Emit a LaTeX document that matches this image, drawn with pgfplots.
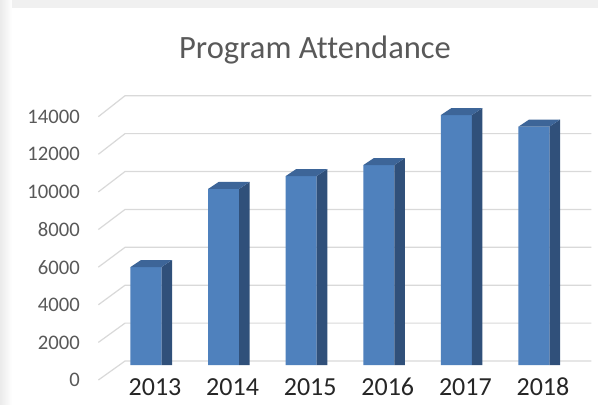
\documentclass[border=0pt]{standalone}
\usepackage{pgfplots}
\pgfplotsset{compat=1.18}
\usepackage{fontspec}
\setmainfont{Carlito}[Ligatures=NoCommon]
\definecolor{txt}{HTML}{595959}
\definecolor{gridc}{HTML}{D9D9D9}
\definecolor{front}{HTML}{4F81BD}
\definecolor{side}{HTML}{30507A}
\definecolor{topc}{HTML}{3D6598}
\begin{document}
\begin{tikzpicture}
% background (1px = 0.75pt); axis box spans x 84..598 px, y 0..404 px
\useasboundingbox (-63pt,0pt) rectangle (385.5pt,303pt);
\fill[gray!12] (-63pt,0pt) rectangle (385.5pt,303pt);
\shade[left color=gray!16, right color=white] (-63pt,0pt) rectangle (-54pt,303pt);
\fill[white] (-54pt,0pt) rectangle (385.5pt,297pt);
\begin{axis}[
  at={(0,0)}, anchor=south west,
  scale only axis, width=385.5pt, height=303pt,
  xmin=-0.799, xmax=5.825, ymin=-2058, ymax=19261,
  clip=false,
  axis line style={draw=none}, tick style={draw=none},
  scaled y ticks=false,
  /pgf/number format/assume math mode=true,
  ytick={-792,1193,3178,5164,7149,9134,11119,13104},
  yticklabels={0,2000,4000,6000,8000,10000,12000,14000},
  xtick={0.116,1.116,2.116,3.116,4.116,5.116},
  xticklabels={2013,2014,2015,2016,2017,2018},
  yticklabel style={anchor=east, inner sep=0pt, xshift=-3pt, text=txt, font=\fontsize{15.5}{15.5}\selectfont},
  xticklabel style={anchor=base, inner sep=0pt, yshift=11pt, text=black!85, font=\fontsize{19.5}{19.5}\selectfont},
  ybar, bar width=0.4, bar shift=0pt,
]
% back-wall gridlines and floor diagonals
\addplot[sharp plot, draw=gridc, line width=0.9pt] coordinates {(-0.614,-792) (-0.270,211) (5.740,211)};
\addplot[sharp plot, draw=gridc, line width=0.9pt] coordinates {(-0.614,1193) (-0.270,2211) (5.740,2211)};
\addplot[sharp plot, draw=gridc, line width=0.9pt] coordinates {(-0.614,3178) (-0.270,4211) (5.740,4211)};
\addplot[sharp plot, draw=gridc, line width=0.9pt] coordinates {(-0.614,5164) (-0.270,6211) (5.740,6211)};
\addplot[sharp plot, draw=gridc, line width=0.9pt] coordinates {(-0.614,7149) (-0.270,8211) (5.740,8211)};
\addplot[sharp plot, draw=gridc, line width=0.9pt] coordinates {(-0.614,9134) (-0.270,10211) (5.740,10211)};
\addplot[sharp plot, draw=gridc, line width=0.9pt] coordinates {(-0.614,11119) (-0.270,12211) (5.740,12211)};
\addplot[sharp plot, draw=gridc, line width=0.9pt] coordinates {(-0.614,13104) (-0.270,14211) (5.740,14211)};
% front faces
\addplot[fill=front, draw=none] coordinates {(0,5170) (1,9290) (2,9970) (3,10550) (4,13190) (5,12580)};
% side faces
\addplot[sharp plot, fill=side, draw=none] coordinates {(0.2,0) (0.336,0) (0.336,5539) (0.2,5170)} --cycle;
\addplot[sharp plot, fill=side, draw=none] coordinates {(1.2,0) (1.336,0) (1.336,9659) (1.2,9290)} --cycle;
\addplot[sharp plot, fill=side, draw=none] coordinates {(2.2,0) (2.336,0) (2.336,10339) (2.2,9970)} --cycle;
\addplot[sharp plot, fill=side, draw=none] coordinates {(3.2,0) (3.336,0) (3.336,10919) (3.2,10550)} --cycle;
\addplot[sharp plot, fill=side, draw=none] coordinates {(4.2,0) (4.336,0) (4.336,13559) (4.2,13190)} --cycle;
\addplot[sharp plot, fill=side, draw=none] coordinates {(5.2,0) (5.336,0) (5.336,12949) (5.2,12580)} --cycle;
% top faces
\addplot[sharp plot, fill=topc, draw=none] coordinates {(-0.2,5170) (0.2,5170) (0.336,5539) (-0.064,5539)} --cycle;
\addplot[sharp plot, fill=topc, draw=none] coordinates {(0.8,9290) (1.2,9290) (1.336,9659) (0.936,9659)} --cycle;
\addplot[sharp plot, fill=topc, draw=none] coordinates {(1.8,9970) (2.2,9970) (2.336,10339) (1.936,10339)} --cycle;
\addplot[sharp plot, fill=topc, draw=none] coordinates {(2.8,10550) (3.2,10550) (3.336,10919) (2.936,10919)} --cycle;
\addplot[sharp plot, fill=topc, draw=none] coordinates {(3.8,13190) (4.2,13190) (4.336,13559) (3.936,13559)} --cycle;
\addplot[sharp plot, fill=topc, draw=none] coordinates {(4.8,12580) (5.2,12580) (5.336,12949) (4.936,12949)} --cycle;
\node[anchor=base, text=txt, font=\fontsize{24.4}{24.4}\selectfont, inner sep=0pt] at (axis cs:2.178,16148) {Program Attendance};
\end{axis}
\end{tikzpicture}
\end{document}
